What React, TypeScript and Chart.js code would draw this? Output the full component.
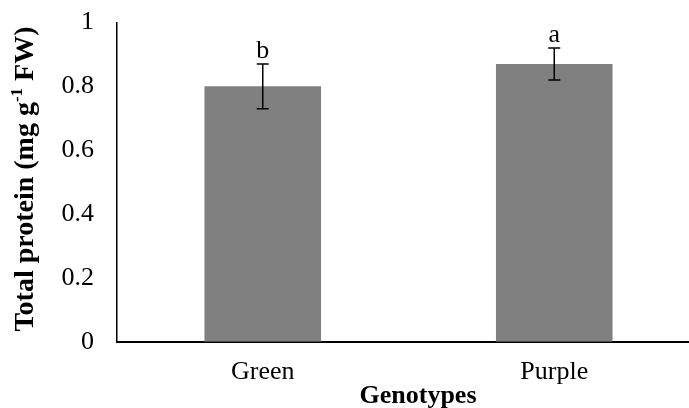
import React, { useEffect, useRef } from "react";
import { Chart, registerables } from "chart.js";

Chart.register(...registerables);

// Genotypes and their mean total protein content (mg g-1 FW) with error (±)
const genotypes = ["Green", "Purple"];
const protein = [0.8, 0.87];
const proteinErr = [0.07, 0.05];
const significance = ["b", "a"];
const yTickValues = [0, 0.2, 0.4, 0.6, 0.8, 1];

const SERIF = "'Liberation Serif', 'Times New Roman', serif";
const FONT_SIZE = 26;

// Error bars and significance letters above each bar
const errorBarPlugin = {
  id: "errorBars",
  afterDatasetsDraw(chart: any) {
    const { ctx } = chart;
    const meta = chart.getDatasetMeta(0);
    const y = chart.scales.y;
    ctx.save();
    meta.data.forEach((bar: any, i: number) => {
      const x = bar.x;
      const top = y.getPixelForValue(protein[i] + proteinErr[i]);
      const bottom = y.getPixelForValue(protein[i] - proteinErr[i]);
      ctx.strokeStyle = "#000";
      ctx.lineWidth = 1.5;
      ctx.beginPath();
      ctx.moveTo(x, top);
      ctx.lineTo(x, bottom);
      ctx.moveTo(x - 6, top);
      ctx.lineTo(x + 6, top);
      ctx.moveTo(x - 6, bottom);
      ctx.lineTo(x + 6, bottom);
      ctx.stroke();

      ctx.fillStyle = "#000";
      ctx.font = `${FONT_SIZE}px ${SERIF}`;
      ctx.textAlign = "center";
      ctx.textBaseline = "alphabetic";
      ctx.fillText(significance[i], x, top - 6);
    });
    ctx.restore();
  },
};

// Axis titles, including the superscript in the unit
const axisTitlePlugin = {
  id: "axisTitles",
  afterDraw(chart: any) {
    const { ctx } = chart;
    ctx.save();
    ctx.fillStyle = "#000";

    // x-axis title
    ctx.font = `bold ${FONT_SIZE}px ${SERIF}`;
    ctx.textAlign = "center";
    ctx.textBaseline = "alphabetic";
    ctx.fillText("Genotypes", 418, 403);

    // y-axis title, rotated
    const mainFont = `bold 28px ${SERIF}`;
    const supFont = `bold 17px ${SERIF}`;
    const parts = [
      { text: "Total protein (mg g", font: mainFont, rise: 0 },
      { text: "-1", font: supFont, rise: 11 },
      { text: " FW)", font: mainFont, rise: 0 },
    ];
    let total = 0;
    const widths = parts.map((p) => {
      ctx.font = p.font;
      const w = ctx.measureText(p.text).width;
      total += w;
      return w;
    });
    ctx.translate(33, 179);
    ctx.rotate(-Math.PI / 2);
    ctx.textAlign = "left";
    let cx = -total / 2;
    parts.forEach((p, i) => {
      ctx.font = p.font;
      ctx.fillText(p.text, cx, -p.rise);
      cx += widths[i];
    });
    ctx.restore();
  },
};

export default function App() {
  const canvasRef = useRef<HTMLCanvasElement | null>(null);

  useEffect(() => {
    if (!canvasRef.current) return;
    const chart = new Chart(canvasRef.current, {
      type: "bar",
      data: {
        labels: genotypes,
        datasets: [
          {
            label: "Total protein",
            data: protein,
            backgroundColor: "#808080",
            borderWidth: 0,
            categoryPercentage: 1,
            barPercentage: 0.4,
          },
        ],
      },
      options: {
        responsive: false,
        animation: false,
        devicePixelRatio: 1,
        layout: { padding: { top: 22.5, right: 5, left: 0, bottom: 0 } },
        plugins: {
          legend: { display: false },
          tooltip: { enabled: false },
        },
        scales: {
          x: {
            type: "category",
            offset: true,
            grid: { display: false, drawTicks: false },
            border: { display: true, color: "#000", width: 2 },
            ticks: {
              color: "#000",
              font: { family: SERIF, size: FONT_SIZE },
              padding: 15,
              maxRotation: 0,
            },
            afterFit: (scale: any) => {
              scale.height = 66.3;
              scale.paddingLeft = 0;
              scale.paddingRight = 0;
            },
          },
          y: {
            min: 0,
            max: 1,
            grid: { display: false, drawTicks: false },
            border: { display: true, color: "#000", width: 1.5 },
            ticks: {
              color: "#000",
              font: { family: SERIF, size: FONT_SIZE },
              padding: 23,
              callback: (v: any) => String(Number(v)),
            },
            afterBuildTicks: (scale: any) => {
              scale.ticks = yTickValues.map((v) => ({ value: v }));
            },
            afterFit: (scale: any) => {
              scale.width = 117;
              scale.paddingTop = 0;
              scale.paddingBottom = 0;
            },
          },
        },
      },
      plugins: [errorBarPlugin, axisTitlePlugin],
    });
    return () => chart.destroy();
  }, []);

  return (
    <div
      style={{
        position: "absolute",
        left: 0,
        top: 0,
        width: 689,
        height: 408,
        overflow: "hidden",
        background: "#fff",
      }}
    >
      <canvas
        ref={canvasRef}
        width={705}
        height={408}
        style={{ width: 705, height: 408, display: "block" }}
      />
    </div>
  );
}
